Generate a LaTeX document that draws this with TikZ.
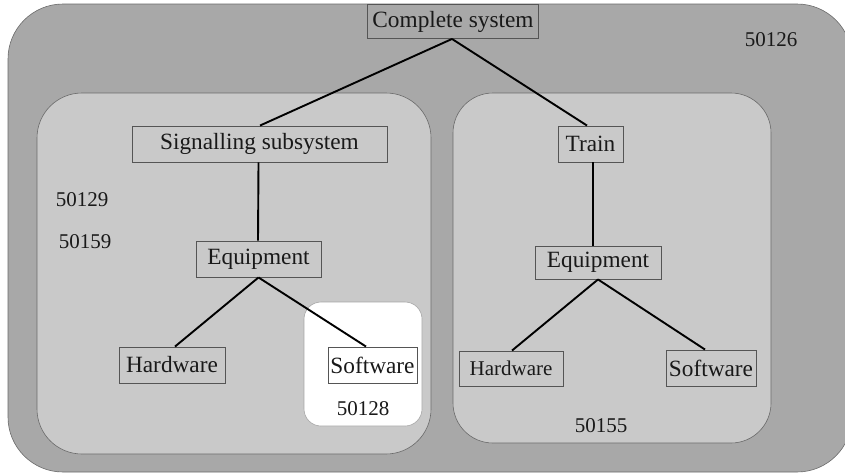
\documentclass[tikz,border=0pt]{standalone}
\usepackage{fontspec}
\setmainfont{Liberation Serif}
\definecolor{outerg}{HTML}{A8A8A8}
\definecolor{innerg}{HTML}{C9C9C9}
\definecolor{edgeg}{HTML}{6A6A6A}
\definecolor{boxg}{HTML}{555555}
\tikzset{
  item/.style={draw=boxg, line width=0.9pt, inner sep=0pt, font=\fontsize{23.3}{27}\selectfont, text=black!90},
  lbl/.style={inner sep=0pt, font=\fontsize{21}{25}\selectfont, text=black!90},
  link/.style={draw=black, line width=1.9pt},
  region/.style={draw=edgeg, line width=0.6pt}
}
\begin{document}
\begin{tikzpicture}[x=1pt,y=-1pt]
\useasboundingbox (0,0) rectangle (845,474);
\clip (0,0) rectangle (845,474);
% regions
\draw[region, fill=outerg, rounded corners=55pt] (8,4) rectangle (852,472);
\draw[region, fill=innerg, rounded corners=45pt] (37,93) rectangle (431,454);
\draw[region, fill=innerg, rounded corners=40pt] (453,93) rectangle (771,443);
\draw[region, draw=edgeg!60, fill=white, rounded corners=17pt] (304,302) rectangle (422,426);
% nodes
\node[item, minimum width=171pt, minimum height=34pt] (cs) at (453,21.5) {Complete system};
\node[item, minimum width=255pt, minimum height=36pt] (sig) at (259.5,144) {Signalling subsystem};
\node[item, minimum width=65pt, minimum height=36pt] (train) at (590.5,144) {Train};
\node[item, minimum width=125pt, minimum height=36pt] (eql) at (258.5,259) {Equipment};
\node[item, minimum width=126pt, minimum height=33pt] (eqr) at (598,262.5) {Equipment};
\node[item, minimum width=106pt, minimum height=36pt] (hwl) at (172,365) {Hardware};
\node[item, minimum width=89pt, minimum height=36pt] (swl) at (372.5,365) {Software};
\node[item, minimum width=104pt, minimum height=35pt, font=\fontsize{21}{25}\selectfont] (hwr) at (511,368.5) {Hardware};
\node[item, minimum width=90pt, minimum height=36pt] (swr) at (711,368) {Software};
% labels
\node[lbl] (l126) at (771,40) {50126};
\node[lbl] (l129) at (82,200) {50129};
\node[lbl] (l159) at (85,242) {50159};
\node[lbl] (l128) at (363,409) {50128};
\node[lbl] (l155) at (601,426) {50155};
% connectors
\draw[link] ([xshift=-1pt]cs.south) -- ([xshift=0.5pt]sig.north);
\draw[link] ([xshift=-1pt]cs.south) -- ([xshift=-3.5pt]train.north);
\draw[link] ([xshift=-1pt]sig.south) -- ([xshift=-0.5pt]eql.north);
\draw[link] (eql.south) -- ([xshift=3pt]hwl.north);
\draw[link] (eql.south) -- ([xshift=-6.5pt]swl.north);
\draw[link] ([xshift=2.5pt]train.north |- train.south) -- ([xshift=-5pt]eqr.north);
\draw[link] (eqr.south) -- ([xshift=1pt]hwr.north);
\draw[link] (eqr.south) -- ([xshift=-6pt]swr.north);
\end{tikzpicture}
\end{document}
